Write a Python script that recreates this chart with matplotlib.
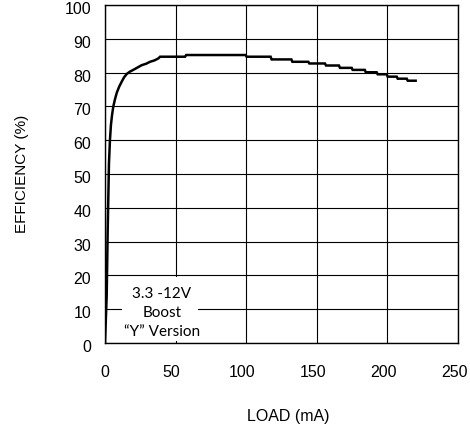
import matplotlib
matplotlib.use("Agg")
import matplotlib.pyplot as plt
from matplotlib.patches import Rectangle
from matplotlib.transforms import ScaledTranslation

load_ma = [0, 0.6, 1.2, 1.9, 2.8, 3.5, 4.2, 5.0, 5.9, 7.0, 8.3, 10, 11.8, 13.5, 15.4,
           17.7, 20, 23, 26, 29, 31.9, 35, 37.8, 39, 56.7, 57.5, 99.6, 100.3,
           117.3, 118, 132, 132.7, 144, 144.7, 155.8, 156.5, 165.7, 166.4,
           174.7, 175.4, 184, 184.7, 192.4, 193.1, 199.5, 200.2, 206.6, 207.3,
           213.7, 214.4, 220]
efficiency = [0, 7, 14, 33, 53, 60, 64.5, 67.5, 70, 72, 74, 75.8, 77.3, 78.6, 79.6,
              80.3, 80.8, 81.5, 82.2, 82.6, 83.2, 83.6, 84.2, 84.7, 84.7, 85.2, 85.2, 84.7,
              84.7, 83.9, 83.9, 83.2, 83.2, 82.7, 82.7, 82.1, 82.1, 81.4,
              81.4, 80.8, 80.8, 80.1, 80.1, 79.5, 79.5, 78.8, 78.8, 78.2,
              78.2, 77.6, 77.6]

x_ticks = [0, 50, 100, 150, 200, 250]
y_ticks = [0, 10, 20, 30, 40, 50, 60, 70, 80, 90, 100]
annotation = "3.3 -12V\nBoost\n\u201cY\u201d Version"

plt.rcParams['font.family'] = ['Liberation Sans', 'DejaVu Sans']

fig = plt.figure(figsize=(4.70, 4.29), dpi=100)
ax = fig.add_axes([105/470, 1-343/429, 353/470, 338/429])

ax.set_xlim(0, 250)
ax.set_ylim(0, 100)
ax.set_xticks(x_ticks)
ax.set_yticks(y_ticks)
ax.set_xticklabels([str(v) for v in x_ticks])
ax.set_yticklabels([str(v) for v in y_ticks])
ax.tick_params(axis='both', length=0, labelsize=11.5, colors='black')
ax.tick_params(axis='x', pad=16)
ax.tick_params(axis='y', pad=10)

# small offsets so labels sit like the reference
for i, lab in enumerate(ax.get_xticklabels()):
    dx = 0 if i == 0 else -4
    lab.set_transform(lab.get_transform() + ScaledTranslation(dx/100, 0, fig.dpi_scale_trans))
for lab in ax.get_yticklabels():
    lab.set_transform(lab.get_transform() + ScaledTranslation(0, -3/100, fig.dpi_scale_trans))

ax.grid(True, color='black', linewidth=0.8, zorder=1)
ax.set_axisbelow(True)
for s in ax.spines.values():
    s.set_color('black')
    s.set_linewidth(1.0)

ax.plot(load_ma, efficiency, color='black', linewidth=1.8, zorder=5,
        solid_joinstyle='miter')

ax.add_patch(Rectangle((12, 0.6), 54, 18.8, facecolor='white', edgecolor='none', zorder=3))
ax.text(40.4, 9.0, annotation, ha='center', va='center', fontsize=11,
        family=['Lato', 'DejaVu Sans'], linespacing=1.45, zorder=4)

ax.set_xlabel("LOAD (mA)", fontsize=11.5)
ax.set_ylabel("EFFICIENCY (%)", fontsize=11)
ax.xaxis.set_label_coords((288-105)/353, (343-409)/338)
ax.yaxis.set_label_coords((29-105)/353, 0.5)

fig.savefig("out.png", dpi=100)
